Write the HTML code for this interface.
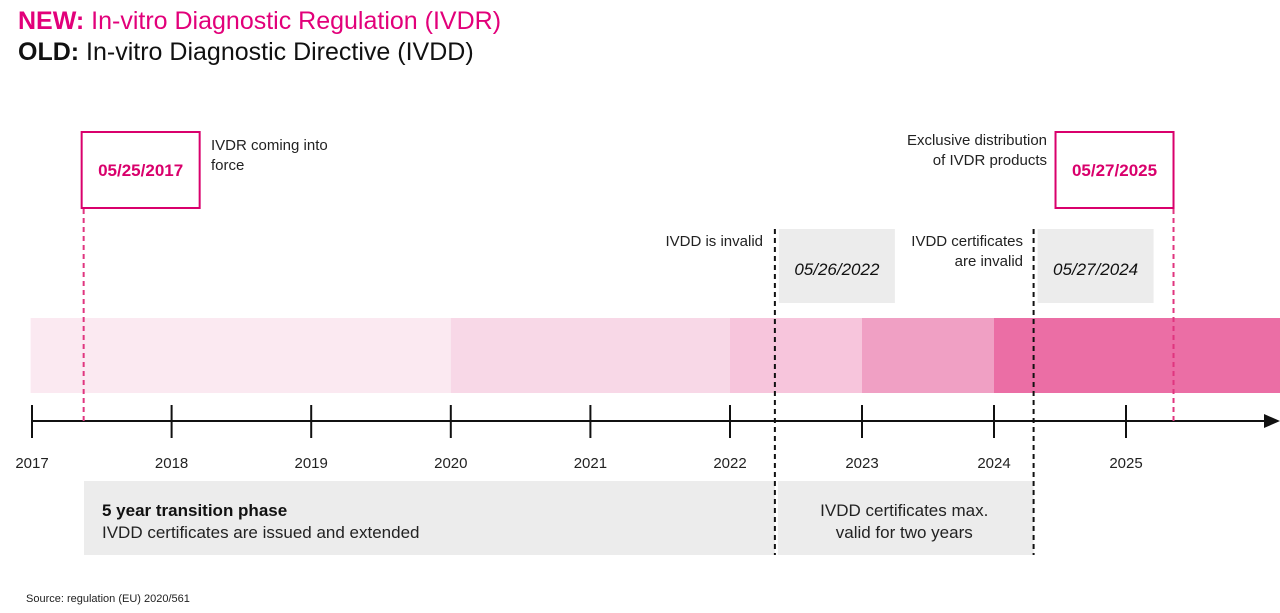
<!DOCTYPE html>
<html><head><meta charset="utf-8"><style>
body{margin:0;background:#fff;width:1280px;height:608px;overflow:hidden;font-family:"Liberation Sans Narrow","Liberation Sans",sans-serif}
svg text{font-family:"Liberation Sans Narrow","Liberation Sans",sans-serif}
</style></head><body>
<svg id="c" width="1280" height="608">
<text x="18" y="29" font-size="25" fill="#e2007a"><tspan font-weight="bold">NEW:</tspan> In-vitro Diagnostic Regulation (IVDR)</text>
<text x="18" y="60" font-size="25" fill="#111"><tspan font-weight="bold">OLD:</tspan> In-vitro Diagnostic Directive (IVDD)</text>
<text x="26" y="602" font-size="11" fill="#222">Source: regulation (EU) 2020/561</text>
<g id="bands"></g><g id="axis"></g><g id="marks"></g>
</svg>
<script>
const years=[2017,2018,2019,2020,2021,2022,2023,2024,2025];
const bandStarts=[2016.99,2020,2022,2023,2024];
const bandEnds=[2020,2022,2023,2024,2026.2];
const bandColors=['#fbe9f1','#f8d8e7','#f7c5dc','#f0a0c4','#eb6ea5'];
const pinkDates=[2017.37,2025.36];
const pinkLabels=['05/25/2017','05/27/2025'];
const blackDates=[2022.34,2024.3];
const blackLabels=['05/26/2022','05/27/2024'];
const NS='http://www.w3.org/2000/svg';
function xs(y){return y<=2022?32+(y-2017)*139.6:730+(y-2022)*132;}
function mk(tag,attrs,parent,txt){const e=document.createElementNS(NS,tag);for(const k in attrs)e.setAttribute(k,attrs[k]);if(txt!==undefined)e.textContent=txt;document.getElementById(parent).appendChild(e);return e;}
bandStarts.forEach((s,i)=>{const x0=Math.max(30,xs(s)),x1=Math.min(1280,xs(bandEnds[i]));
const r=mk('rect',{x:x0,y:318,width:x1-x0,height:75,fill:bandColors[i]},'bands');

});
const ax=mk('line',{x1:32,y1:421,x2:1268,y2:421,stroke:'#111','stroke-width':2},'axis');


const ar=mk('polygon',{points:'1264,414 1280,421 1264,428',fill:'#111'},'axis');


years.forEach(y=>{const x=xs(y);
const t=mk('line',{x1:x,y1:405,x2:x,y2:438,stroke:'#111','stroke-width':2},'axis');


const l=mk('text',{x:x,y:468,'font-size':15,'text-anchor':'middle',fill:'#222'},'axis',String(y));

});
// bottom phase boxes
const b1=mk('rect',{x:84,y:481,width:xs(blackDates[0])-84,height:74,fill:'#ececec'},'marks');


const b2=mk('rect',{x:xs(blackDates[0])+3,y:481,width:xs(blackDates[1])-xs(blackDates[0])-3,height:74,fill:'#ececec'},'marks');


let t1=mk('text',{x:102,y:516,'font-size':17,'font-weight':'bold',fill:'#111'},'marks','5 year transition phase');


let t2=mk('text',{x:102,y:538,'font-size':17,fill:'#222'},'marks','IVDD certificates are issued and extended');


let cx=(xs(blackDates[0])+xs(blackDates[1]))/2;
let t3=mk('text',{x:cx,y:516,'font-size':17,'text-anchor':'middle',fill:'#222'},'marks','IVDD certificates max.');


let t4=mk('text',{x:cx,y:538,'font-size':17,'text-anchor':'middle',fill:'#222'},'marks','valid for two years');


// black date markers
blackDates.forEach((d,i)=>{const x=xs(d);
const g=mk('rect',{x:x+4,y:229,width:116,height:74,fill:'#ececec'},'marks');


const tx=mk('text',{x:x+62,y:275,'font-size':17,'font-style':'italic','text-anchor':'middle',fill:'#111'},'marks',blackLabels[i]);


const ln=mk('line',{x1:x,y1:229,x2:x,y2:555,stroke:'#111','stroke-width':2,'stroke-dasharray':'5,4'},'marks');

});
// pink markers
const pinkBoxX=[82,1055];
pinkDates.forEach((d,i)=>{const x=xs(d);const bx=i==0?x-2:x-118;
const r=mk('rect',{x:bx,y:132,width:118,height:76,fill:'#fff',stroke:'#d9006c','stroke-width':2},'marks');


const tx=mk('text',{x:bx+59,y:176,'font-size':17,'font-weight':'bold','text-anchor':'middle',fill:'#d9006c'},'marks',pinkLabels[i]);


const ln=mk('line',{x1:x,y1:209,x2:x,y2:421,stroke:'#e0357f','stroke-width':2,'stroke-dasharray':'5,4'},'marks');

});
const notes=[[211,150,'start','IVDR coming into'],[211,170,'start','force'],[1047,145,'end','Exclusive distribution'],[1047,165,'end','of IVDR products'],[763,246,'end','IVDD is invalid'],[1023,246,'end','IVDD certificates'],[1023,266,'end','are invalid']];
notes.forEach((n,i)=>{const t=mk('text',{x:n[0],y:n[1],'font-size':15,'text-anchor':n[2],fill:'#222'},'marks',n[3]);

});
</script>
</body></html>
